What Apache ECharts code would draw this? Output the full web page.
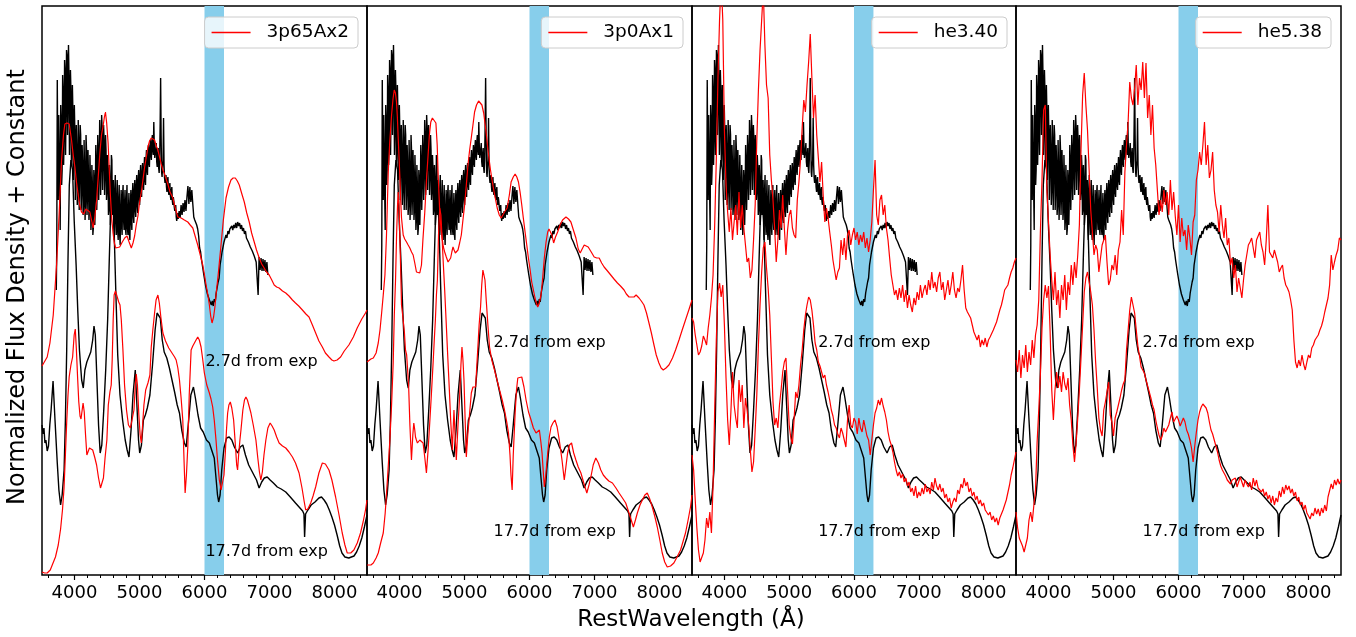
<!DOCTYPE html>
<html>
<head>
<meta charset="utf-8">
<script src="https://cdn.jsdelivr.net/npm/echarts@6/dist/echarts.min.js"></script>
<style>
  html, body { margin: 0; padding: 0; background: #ffffff; }
  #chart { width: 1356px; height: 637px; }
</style>
</head>
<body>
<div id="chart"></div>
<script>
// ---- axes ----
const WAVE_MIN = 3500;
const WAVE_MAX = 8500;
const FLUX_MAX = 569;            // flux in arbitrary units (x100), offsets included
const MAJOR_TICKS = [4000, 5000, 6000, 7000, 8000];
const MINOR_TICKS = [3600, 3800, 4200, 4400, 4600, 4800, 5200, 5400, 5600, 5800,
                     6200, 6400, 6600, 6800, 7200, 7400, 7600, 7800, 8200, 8400];
const SI_BAND = [6000, 6300];

// ---- panels ----
const MODEL_NAMES = ['3p65Ax2', '3p0Ax1', 'he3.40', 'he5.38'];
const EPOCH_TEXT = ['2.7d from exp', '17.7d from exp'];
const LABEL_EARLY = [[6014, 213], [5447, 232], [5447, 232], [5447, 232]];
const LABEL_LATE  = [[6014, 23],  [5447, 43],  [5447, 43],  [5447, 43]];

// ---- observed spectrum, 2.7 d ----
// blue part: 7.5 A sampling from 3720 A
const OBS_EARLY_BLUE_START = 3720;
const OBS_EARLY_BLUE_STEP = 7.5;
const OBS_EARLY_BLUE = [
  285,330,495,420,375,460,425,380,345,470,
  455,390,405,500,485,410,435,515,505,420,
  465,525,520,440,475,530,500,420,445,505,
  485,410,425,490,465,395,395,470,445,375,
  375,450,425,370,385,455,435,365,400,450,
  440,365,385,430,410,360,370,435,405,355,
  375,440,425,360,380,425,400,355,365,420,
  395,345,355,410,390,340,347,405,395,350,
  375,430,415,365,390,440,425,375,400,455,
  440,380,410,460,447,385,415,450,435,380,
  400,440,425,375,385,420,407,360,365,410,
  395,350,360,420,415,360,370,395,350,335,
  385,400,355,340,375,395,343,335,375,390,
  340,330,365,385,350,340,380,390,355,345,
  370,385,345,340,375,390,347,340,365,382,
  340,335,370,385,353,345,380,392,360,352,
  385,395,365,358,390,400,370,362,395,405,
  377,370,400,410,383,378,403,412,390,385,
  407,418,395,390,415,425,405,400,420,430,
  413,408,427,435,420,415,433,440,425,420,
  453,430,417,422,425,432,413,408,420,427,
  407,402,415,450,497,440,403,398,409,415,
  457,410,397,392,395,400,388,383,394,398,
  384,380,388,392,379,375,384,388,374,370,
  378,374,368,364,366,370,358,354,359,362,
  356
];
// red part: 15 A sampling from 5610 A
const OBS_EARLY_RED_START = 5610;
const OBS_EARLY_RED_STEP = 15;
const OBS_EARLY_RED = [
  364,357,370,360,
  372,363,375,364,378,389,371,388,373,385,
  371,358,355,357,350,346,339,327,323,315,
  313,302,302,290,290,281,283,275,277,270,
  274,269,276,273,282,281,293,297,310,311,
  323,323,333,331,340,337,344,341,346,344,
  349,345,350,347,352,347,353,349,352,346,
  350,344,347,341,344,337,339,333,335,328,
  330,324,325,319,320,313,315,280,318,305,
  317,304,316,304,315,303,313,300
];

// ---- observed spectrum, 17.7 d ----
const OBS_LATE = [
  [3500,150],[3515,141],[3530,147],[3545,132],[3560,135],[3580,124],[3600,129],[3620,150],[3640,165],[3670,194],[3700,155],[3735,112],
  [3760,85],[3786,70],[3810,80],[3840,105],[3860,155],[3880,225],[3900,315],[3920,390],
  [3945,415],[3970,405],[3995,355],[4025,310],[4050,265],[4076,225],[4110,195],[4135,187],
  [4160,205],[4190,213],[4220,215],[4250,223],[4280,235],[4300,249],[4320,240],[4345,195],
  [4370,150],[4395,122],[4420,130],[4450,165],[4480,205],[4510,255],[4535,315],[4555,360],
  [4580,380],[4605,355],[4635,285],[4665,220],[4700,180],[4740,155],[4780,135],[4810,125],
  [4838,118],[4870,145],[4900,180],[4935,205],[4960,170],[4985,135],[5003,122],[5030,130],
  [5060,155],[5090,160],[5120,167],[5160,180],[5200,210],[5240,245],[5270,262],[5290,263],
  [5320,257],[5350,235],[5380,223],[5420,217],[5460,207],[5500,195],[5540,183],[5580,170],
  [5615,162],[5650,145],[5690,132],[5718,128],[5750,150],[5790,180],[5830,188],[5860,177],
  [5900,160],[5940,147],[5980,143],[6030,135],[6075,132],[6110,125],[6150,117],[6180,95],
  [6200,80],[6218,73],[6240,80],[6265,105],[6300,127],[6340,137],[6380,138],[6420,135],
  [6460,128],[6510,122],[6550,128],[6590,130],[6630,120],[6680,110],[6720,105],[6760,100],
  [6800,95],[6840,87],[6880,93],[6920,97],[6965,98],[7010,95],[7060,92],[7120,88],
  [7180,86],[7250,83],[7320,78],[7400,72],[7455,68],[7510,64],[7530,61],[7540,38],
  [7555,61],[7590,65],[7640,70],[7700,73],[7760,77],[7800,78],[7840,75],[7880,71],
  [7920,65],[7960,58],[8000,50],[8040,40],[8080,29],[8115,22],[8160,18],[8220,17],
  [8260,18],[8300,19],[8340,23],[8380,29],[8420,37],[8460,48],[8500,60]
];

// ---- model 3p65Ax2 ----
const M3P65_EARLY = [
  [3500,209],[3520,211],[3580,218],[3622,232],[3673,260],[3725,311],[3765,363],[3801,415],
  [3830,440],[3852,451],[3885,452],[3919,451],[3954,435],[3980,420],[4006,408],[4030,393],
  [4057,380],[4080,370],[4108,363],[4144,361],[4175,366],[4200,368],[4236,363],[4262,355],
  [4287,347],[4312,358],[4338,373],[4365,398],[4389,421],[4415,440],[4440,449],[4460,458],
  [4476,463],[4495,452],[4517,432],[4535,405],[4552,380],[4572,357],[4593,342],[4613,332],
  [4634,327],[4660,327],[4695,328],[4735,333],[4772,337],[4808,339],[4840,333],[4874,327],
  [4900,332],[4925,339],[4950,350],[4976,359],[5000,372],[5028,383],[5053,395],[5079,408],
  [5105,418],[5130,428],[5155,434],[5181,437],[5206,437],[5232,435],[5258,429],[5283,425],
  [5309,418],[5334,411],[5360,405],[5385,401],[5411,400],[5440,390],[5470,383],[5513,377],
  [5550,367],[5590,358],[5641,357],[5690,355],[5743,353],[5780,350],[5820,347],[5860,338],
  [5896,330],[5935,320],[5973,310],[6000,300],[6024,290],[6050,281],[6075,270],[6095,259],
  [6116,252],[6140,258],[6160,268],[6177,280],[6210,300],[6254,330],[6290,355],[6331,377],
  [6370,388],[6407,395],[6440,397],[6474,397],[6505,394],[6535,390],[6575,381],[6612,373],
  [6650,362],[6688,353],[6725,342],[6765,333],[6800,325],[6842,317],[6880,311],[6918,307],
  [6955,303],[6995,300],[7035,295],[7072,290],[7110,288],[7148,287],[7200,284],[7250,282],
  [7300,279],[7353,275],[7400,272],[7450,269],[7506,265],[7560,261],[7608,258],[7660,250],
  [7710,242],[7760,234],[7813,228],[7860,222],[7915,218],[7960,215],[7991,214],[8040,215],
  [8094,218],[8150,224],[8221,230],[8290,238],[8349,247],[8420,256],[8477,262],[8500,265]
];
const M3P65_LATE = [
  [3500,3],[3540,2],[3580,2],[3627,5],[3670,12],[3707,18],[3750,30],[3786,46],
  [3815,65],[3839,87],[3860,120],[3882,156],[3900,180],[3918,198],[3945,210],[3971,218],
  [3995,240],[4012,246],[4028,227],[4048,197],[4066,173],[4085,159],[4100,156],[4118,165],
  [4132,172],[4150,163],[4170,140],[4190,120],[4208,118],[4230,127],[4255,129],[4280,125],
  [4310,118],[4340,110],[4370,97],[4400,87],[4425,88],[4445,97],[4470,117],[4498,135],
  [4520,170],[4545,183],[4565,190],[4580,215],[4595,255],[4610,280],[4630,284],[4657,282],
  [4680,273],[4700,270],[4720,255],[4745,225],[4770,190],[4800,165],[4830,150],[4860,147],
  [4890,147],[4915,165],[4935,190],[4950,201],[4968,190],[4990,160],[5010,140],[5028,132],
  [5048,150],[5068,170],[5095,185],[5130,192],[5160,200],[5181,228],[5205,245],[5232,262],
  [5255,275],[5283,280],[5305,272],[5330,257],[5360,242],[5400,234],[5450,227],[5500,222],
  [5540,218],[5564,215],[5590,207],[5615,195],[5640,177],[5666,155],[5685,115],[5702,82],
  [5722,100],[5743,128],[5765,180],[5794,225],[5820,229],[5845,230],[5870,235],[5896,238],
  [5920,235],[5947,228],[5970,217],[5998,202],[6035,190],[6075,182],[6100,176],[6126,168],
  [6150,155],[6177,135],[6200,115],[6228,95],[6255,85],[6280,85],[6300,100],[6320,122],
  [6340,147],[6356,162],[6375,170],[6397,173],[6420,167],[6448,155],[6475,130],[6495,110],
  [6509,105],[6525,120],[6545,135],[6561,145],[6590,165],[6615,175],[6637,178],[6660,175],
  [6690,168],[6714,162],[6750,150],[6791,135],[6820,117],[6845,103],[6867,95],[6890,103],
  [6915,120],[6944,135],[6975,147],[7010,152],[7040,149],[7072,145],[7110,138],[7148,132],
  [7200,129],[7250,127],[7300,123],[7353,118],[7400,112],[7455,102],[7500,87],[7535,73],
  [7557,65],[7590,66],[7634,72],[7670,79],[7710,88],[7760,102],[7813,112],[7860,111],
  [7915,105],[7960,95],[8017,78],[8070,60],[8119,42],[8160,30],[8196,22],[8250,22],
  [8298,25],[8350,32],[8400,42],[8440,53],[8477,65],[8500,75]
];

// ---- model 3p0Ax1 ----
const M3P0_EARLY = [
  [3500,213],[3520,215],[3560,216],[3597,217],[3640,222],[3673,232],[3700,245],[3725,262],
  [3750,280],[3776,300],[3800,340],[3827,403],[3850,433],[3878,460],[3900,476],[3919,485],
  [3937,482],[3954,473],[3967,458],[3980,437],[3993,418],[4006,397],[4018,375],[4031,357],
  [4057,340],[4080,336],[4108,333],[4133,330],[4159,327],[4185,323],[4210,320],[4235,312],
  [4261,303],[4290,302],[4312,302],[4338,310],[4360,335],[4389,363],[4415,395],[4440,420],
  [4460,440],[4481,453],[4506,457],[4530,456],[4560,452],[4580,430],[4593,403],[4606,383],
  [4619,363],[4637,347],[4655,337],[4675,328],[4695,323],[4720,318],[4747,313],[4767,315],
  [4787,317],[4805,323],[4823,328],[4840,325],[4859,322],[4880,323],[4900,325],[4925,332],
  [4951,340],[4976,355],[5002,370],[5028,390],[5053,410],[5079,425],[5104,437],[5130,450],
  [5155,463],[5185,470],[5217,474],[5242,472],[5268,470],[5295,462],[5319,450],[5345,435],
  [5370,420],[5400,405],[5436,390],[5470,378],[5503,367],[5535,360],[5564,357],[5590,360],
  [5615,363],[5640,365],[5656,367],[5690,380],[5717,393],[5750,398],[5779,401],[5805,398],
  [5830,393],[5855,383],[5881,370],[5905,357],[5932,343],[5958,330],[5983,317],[6010,305],
  [6034,293],[6060,285],[6085,277],[6105,272],[6126,268],[6150,272],[6177,280],[6200,295],
  [6228,317],[6255,333],[6280,343],[6300,346],[6320,347],[6345,340],[6371,332],[6400,338],
  [6433,343],[6470,350],[6509,355],[6535,357],[6561,358],[6600,356],[6637,353],[6675,345],
  [6714,337],[6750,326],[6780,322],[6810,326],[6842,330],[6870,329],[6903,328],[6950,323],
  [6995,318],[7035,317],[7072,317],[7110,312],[7148,308],[7200,304],[7250,300],[7300,296],
  [7353,292],[7400,289],[7455,285],[7490,281],[7531,278],[7570,278],[7608,278],[7640,280],
  [7685,277],[7720,274],[7761,270],[7800,262],[7838,252],[7875,242],[7915,230],[7950,220],
  [7991,212],[8025,207],[8058,205],[8100,207],[8145,210],[8200,217],[8247,225],[8300,235],
  [8349,245],[8400,255],[8451,265],[8500,275]
];
const M3P0_LATE = [
  [3500,10],[3520,8],[3560,10],[3597,12],[3640,17],[3673,22],[3710,32],[3750,42],
  [3780,62],[3801,82],[3830,112],[3852,135],[3878,170],[3903,212],[3920,260],[3939,295],
  [3955,340],[3970,370],[3980,383],[3993,370],[4006,337],[4020,300],[4031,270],[4045,262],
  [4057,262],[4075,243],[4092,225],[4110,220],[4123,218],[4140,190],[4160,150],[4184,115],
  [4205,140],[4220,152],[4235,145],[4246,138],[4260,135],[4276,132],[4295,134],[4312,135],
  [4340,134],[4363,132],[4390,117],[4414,102],[4440,125],[4465,152],[4490,180],[4517,212],
  [4535,235],[4552,255],[4568,280],[4583,295],[4600,340],[4619,367],[4637,360],[4655,337],
  [4675,310],[4695,285],[4720,250],[4747,212],[4767,185],[4787,155],[4800,140],[4813,125],
  [4825,145],[4838,165],[4855,140],[4874,115],[4900,150],[4925,178],[4945,210],[4961,228],
  [4976,215],[4992,195],[5010,155],[5028,118],[5050,140],[5079,162],[5105,182],[5130,188],
  [5150,188],[5171,188],[5190,210],[5206,228],[5225,250],[5247,268],[5265,290],[5283,305],
  [5298,307],[5315,295],[5334,275],[5360,250],[5385,228],[5420,215],[5462,205],[5500,195],
  [5539,185],[5580,175],[5615,165],[5650,153],[5677,142],[5700,120],[5715,100],[5733,85],
  [5750,120],[5779,162],[5800,185],[5820,197],[5850,199],[5881,198],[5915,188],[5947,175],
  [5985,163],[6024,155],[6060,147],[6101,142],[6130,144],[6152,145],[6175,133],[6193,122],
  [6210,105],[6228,88],[6250,100],[6280,122],[6305,138],[6331,148],[6360,152],[6392,155],
  [6425,148],[6458,135],[6500,115],[6535,95],[6560,108],[6586,122],[6615,130],[6647,132],
  [6680,122],[6714,115],[6750,108],[6791,102],[6835,92],[6882,82],[6915,90],[6944,98],
  [6980,110],[7020,117],[7060,112],[7097,105],[7135,100],[7174,97],[7220,94],[7276,92],
  [7330,87],[7378,82],[7430,77],[7480,72],[7531,62],[7565,55],[7598,48],[7630,55],
  [7659,62],[7700,70],[7736,75],[7775,80],[7812,82],[7850,76],[7889,68],[7930,58],
  [7966,48],[8005,35],[8042,22],[8080,13],[8119,8],[8170,9],[8221,12],[8270,18],
  [8324,25],[8360,33],[8400,42],[8440,55],[8477,68],[8500,80]
];

// ---- he models (uniform 25 A sampling from 3500 A) ----
const MODEL_GRID_START = 3500;
const MODEL_GRID_STEP = 25;
const HE340_EARLY = [
  257,253,240,230,220,223,229,239,
  235,230,247,260,277,300,350,415,
  495,555,595,555,445,390,363,343,
  367,335,353,370,340,383,347,370,
  347,330,313,317,297,305,335,370,
  435,485,525,555,585,530,490,477,
  420,395,375,347,313,335,365,347,
  380,347,320,345,360,365,347,340,
  337,375,393,415,447,475,463,490,
  513,541,497,457,480,440,417,393,
  413,379,353,367,357,343,330,315,
  305,295,303,307,335,320,337,315,
  340,345,330,340,347,335,343,330,
  340,333,343,327,337,323,335,353,
  385,415,360,350,375,380,360,370,
  347,335,317,300,290,280,285,275,
  287,277,290,273,285,267,280,270,
  263,277,270,283,275,290,277,285,
  290,280,295,285,303,287,293,283,
  297,303,285,293,275,285,295,280,
  290,303,285,277,287,283,295,310,
  285,267,263,260,257,250,243,245,
  235,240,228,235,230,237,228,235,
  238,240,245,247,253,255,265,270,
  277,285,287,290,297,303,307,313,
  317
];
const HE340_LATE = [
  120,105,75,47,25,13,11,22,
  35,57,47,63,42,90,165,235,
  283,292,278,290,250,197,155,130,
  163,203,170,157,147,195,173,190,
  147,177,165,150,125,103,113,145,
  180,230,270,303,327,333,307,287,
  260,217,173,150,157,147,170,185,
  203,213,217,183,150,137,131,155,
  183,177,190,210,225,245,260,270,
  278,275,265,250,232,225,213,209,
  203,197,200,190,183,175,165,159,
  150,147,141,137,147,142,135,128,
  155,170,150,147,157,153,141,157,
  147,143,155,147,139,135,120,135,
  150,162,167,175,170,177,169,163,
  155,143,135,130,123,113,105,99,
  103,97,101,93,97,89,93,83,
  87,79,89,77,83,79,87,81,
  91,83,87,81,93,85,97,89,
  85,91,83,87,77,81,73,77,
  67,73,77,73,85,81,91,87,
  97,89,93,83,87,79,83,75,
  79,71,75,69,72,65,67,60,
  63,55,59,53,57,50,57,55,
  65,63,75,77,90,100,107,115,
  123
];
const HE538_EARLY = [
  215,203,225,197,220,207,230,203,
  223,210,235,217,240,250,275,343,
  395,465,470,385,353,320,295,275,
  303,270,285,257,290,275,300,265,
  293,280,310,290,313,297,320,350,
  425,480,502,470,445,405,365,343,
  320,330,325,303,317,330,335,340,
  313,290,295,310,305,320,300,325,
  333,365,340,403,430,453,493,477,
  470,487,510,470,497,485,513,477,
  512,457,480,440,470,427,410,385,
  360,375,363,385,370,383,360,395,
  365,383,359,340,370,333,357,339,
  345,325,350,337,320,353,360,395,
  405,423,410,430,453,410,430,397,
  405,423,385,370,363,343,370,350,
  337,357,330,337,310,317,297,310,
  283,297,287,277,295,310,320,330,
  333,337,327,317,335,337,343,330,
  323,310,335,370,323,320,317,325,
  323,313,303,307,310,297,290,287,
  283,275,265,235,213,207,215,209,
  220,211,205,213,220,217,227,230,
  235,237,240,245,249,255,263,270,
  277,290,320,305,313,320,325,337,
  335
];
const HE538_LATE = [
  63,47,37,33,29,23,30,37,
  55,63,53,70,85,133,165,200,
  247,275,290,277,289,243,185,155,
  185,203,187,199,183,203,191,185,
  197,170,155,130,113,132,157,185,
  217,250,283,297,303,293,283,270,
  245,213,187,157,145,139,165,173,
  183,193,160,153,139,157,163,170,
  177,185,191,195,225,245,265,278,
  270,262,245,229,219,208,205,202,
  195,189,183,177,170,165,155,147,
  140,135,139,147,143,142,150,157,
  163,153,155,159,155,149,151,157,
  153,145,141,135,127,113,129,143,
  155,163,168,171,173,167,162,153,
  145,141,135,129,123,115,109,105,
  102,99,95,97,91,95,93,97,
  88,93,98,93,88,95,91,88,
  93,85,97,89,95,87,89,83,
  86,79,83,76,80,72,79,70,
  77,73,84,78,88,81,90,85,
  89,82,86,79,83,74,78,70,
  73,65,70,62,64,56,62,59,
  67,61,66,59,67,62,70,64,
  78,80,91,86,95,90,96,91,
  95
];

// ---- assemble ----
const onGrid = (start, step, vals) => vals.map((v, i) => [start + i * step, v]);

const obsEarly = onGrid(OBS_EARLY_BLUE_START, OBS_EARLY_BLUE_STEP, OBS_EARLY_BLUE)
  .concat(onGrid(OBS_EARLY_RED_START, OBS_EARLY_RED_STEP, OBS_EARLY_RED));
const obsLate = OBS_LATE;
const models = [
  [M3P65_EARLY, M3P65_LATE],
  [M3P0_EARLY, M3P0_LATE],
  [onGrid(MODEL_GRID_START, MODEL_GRID_STEP, HE340_EARLY), onGrid(MODEL_GRID_START, MODEL_GRID_STEP, HE340_LATE)],
  [onGrid(MODEL_GRID_START, MODEL_GRID_STEP, HE538_EARLY), onGrid(MODEL_GRID_START, MODEL_GRID_STEP, HE538_LATE)]
];

const FONT = 'DejaVu Sans';
const PANEL_LEFT = [42, 367, 692, 1016];
const PANEL_WIDTH = [325, 325, 324, 325];
const PANEL_TOP = 6;
const PANEL_HEIGHT = 569;
const LEGEND_RIGHT_EDGE = [358, 683, 1007, 1331];

const grids = [], xAxes = [], yAxes = [], series = [], legends = [];

for (let i = 0; i < 4; i++) {
  grids.push({
    left: PANEL_LEFT[i], top: PANEL_TOP, width: PANEL_WIDTH[i], height: PANEL_HEIGHT,
    show: true, borderColor: '#000', borderWidth: 1.5, backgroundColor: 'transparent'
  });
  yAxes.push({ gridIndex: i, type: 'value', min: 0, max: FLUX_MAX, show: false });
}
for (let i = 0; i < 4; i++) {
  xAxes.push({
    gridIndex: i, type: 'value', min: WAVE_MIN, max: WAVE_MAX, position: 'bottom',
    axisLine: { show: false },
    splitLine: { show: false },
    axisTick: { show: true, customValues: MAJOR_TICKS, length: 5, lineStyle: { color: '#000', width: 1.2 } },
    axisLabel: { show: true, customValues: MAJOR_TICKS, color: '#000', fontSize: 18, fontFamily: FONT,
                 margin: 9, formatter: v => String(v) }
  });
}
for (let i = 0; i < 4; i++) {
  xAxes.push({
    gridIndex: i, type: 'value', min: WAVE_MIN, max: WAVE_MAX, position: 'bottom', offset: 0,
    axisLine: { show: false },
    splitLine: { show: false },
    axisTick: { show: true, customValues: MINOR_TICKS, length: 3, lineStyle: { color: '#000', width: 1 } },
    axisLabel: { show: false }
  });
}

for (let i = 0; i < 4; i++) {
  // Si II window
  series.push({
    type: 'custom', xAxisIndex: i, yAxisIndex: i, z: 1, silent: true,
    data: [[SI_BAND[0], SI_BAND[1]]],
    encode: { x: [0, 1] },
    renderItem: (params, api) => {
      const a = api.coord([api.value(0), FLUX_MAX]);
      const b = api.coord([api.value(1), 0]);
      return { type: 'rect', shape: { x: a[0], y: a[1], width: b[0] - a[0], height: b[1] - a[1] },
               style: { fill: '#87ceeb' } };
    }
  });
  const lineBase = { type: 'line', xAxisIndex: i, yAxisIndex: i, showSymbol: false, symbol: 'none', silent: true };
  series.push(Object.assign({}, lineBase, { name: 'observed 2.7d', z: 3, data: obsEarly,
    itemStyle: { color: '#000' }, lineStyle: { color: '#000', width: 1.4 } }));
  series.push(Object.assign({}, lineBase, { name: 'observed 17.7d', z: 3, data: obsLate,
    itemStyle: { color: '#000' }, lineStyle: { color: '#000', width: 1.4 } }));
  series.push(Object.assign({}, lineBase, { name: MODEL_NAMES[i], z: 4, data: models[i][0],
    itemStyle: { color: '#ff0000' }, lineStyle: { color: '#ff0000', width: 1.2 } }));
  series.push(Object.assign({}, lineBase, { name: MODEL_NAMES[i], z: 4, data: models[i][1],
    itemStyle: { color: '#ff0000' }, lineStyle: { color: '#ff0000', width: 1.2 } }));
  // epoch annotations
  series.push({
    type: 'scatter', xAxisIndex: i, yAxisIndex: i, z: 5, silent: true, symbolSize: 0,
    itemStyle: { opacity: 1 },
    data: [
      { name: EPOCH_TEXT[0], value: LABEL_EARLY[i] },
      { name: EPOCH_TEXT[1], value: LABEL_LATE[i] }
    ],
    label: { show: true, position: 'right', distance: 0, formatter: p => p.name,
             color: '#000', opacity: 1, fontSize: 16, fontFamily: FONT }
  });
  legends.push({
    data: [MODEL_NAMES[i]], right: 1356 - LEGEND_RIGHT_EDGE[i], top: 17,
    icon: 'rect', itemWidth: 39, itemHeight: 1.5, itemGap: 0,
    padding: [6, 9, 6, 7], backgroundColor: 'rgba(255,255,255,0.8)',
    borderColor: '#cccccc', borderWidth: 1, borderRadius: 4, selectedMode: false,
    textStyle: { color: '#000', fontSize: 18.5, fontFamily: FONT, padding: [0, 0, 0, 11] }
  });
}

const chart = echarts.init(document.getElementById('chart'), null, { renderer: 'canvas' });
chart.setOption({
  animation: false,
  backgroundColor: '#ffffff',
  grid: grids,
  xAxis: xAxes,
  yAxis: yAxes,
  legend: legends,
  series: series,
  graphic: [
    { type: 'text', x: 691, y: 620,
      style: { text: 'RestWavelength (Å)', fill: '#000', font: '23px "DejaVu Sans"', textAlign: 'center', textVerticalAlign: 'middle' } },
    { type: 'text', x: 18, y: 287, rotation: Math.PI / 2,
      style: { text: 'Normalized Flux Density + Constant', fill: '#000', font: '24px "DejaVu Sans"', textAlign: 'center', textVerticalAlign: 'middle' } }
  ]
});
</script>
</body>
</html>
